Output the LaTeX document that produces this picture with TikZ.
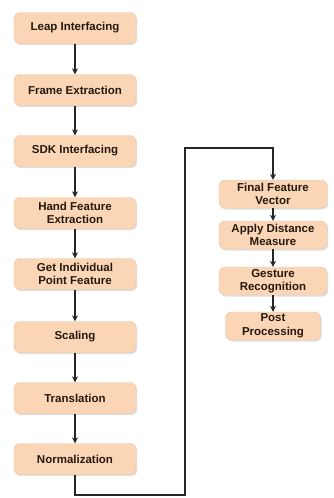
\documentclass[tikz,border=0pt]{standalone}
\usepackage{fontspec}
\setmainfont{Liberation Sans}
\usetikzlibrary{arrows.meta,shadows}

\definecolor{boxfill}{RGB}{250,214,182}
\definecolor{boxline}{RGB}{236,196,160}
\definecolor{textdark}{RGB}{40,25,15}

\begin{document}
\begin{tikzpicture}[x=1pt,y=-1pt,
    stage/.style={rectangle, rounded corners=6pt, fill=boxfill, draw=boxline,
        drop shadow={shadow xshift=1.2pt, shadow yshift=-1.5pt, fill=black!25},
        font=\bfseries\fontsize{11.5}{13.5}\selectfont, text=textdark, align=center,
        minimum width=122pt, minimum height=31pt, inner sep=0.5pt},
    rstage/.style={stage, minimum width=108pt, minimum height=28pt},
    flow/.style={-{Stealth[length=6pt,width=6pt]}, line width=1.1pt, black!85}]
    \useasboundingbox (0,0) rectangle (334,498);

    % left column
    \node[stage] (leap)  at (75,28)  {Leap Interfacing};
    \node[stage] (frame) at (75,90)  {Frame Extraction};
    \node[stage] (sdk)   at (75,151) {SDK Interfacing};
    \node[stage] (hand)  at (75,213) {Hand Feature\\Extraction};
    \node[stage] (point) at (75,274) {Get Individual\\Point Feature};
    \node[stage] (scale) at (75,337) {Scaling};
    \node[stage] (trans) at (75,398) {Translation};
    \node[stage] (norm)  at (75,459) {Normalization};

    % right column
    \node[rstage] (final)   at (273,194) {Final Feature\\Vector};
    \node[rstage] (dist)    at (273,235) {Apply Distance\\Measure};
    \node[rstage] (gesture) at (273,281) {Gesture\\Recognition};
    \node[rstage, minimum width=95pt] (post) at (273,326) {Post\\Processing};

    \foreach \a/\b in {leap/frame, frame/sdk, sdk/hand, hand/point,
                       point/scale, scale/trans, trans/norm,
                       final/dist, dist/gesture, gesture/post}
        \draw[flow] (\a) -- (\b);

    % loop back up to the right column
    \coordinate (down)  at (75,495);
    \coordinate (up)    at (185,148);
    \draw[flow] (norm.south) -- (down) -| (up) -| (final.north);
\end{tikzpicture}
\end{document}
